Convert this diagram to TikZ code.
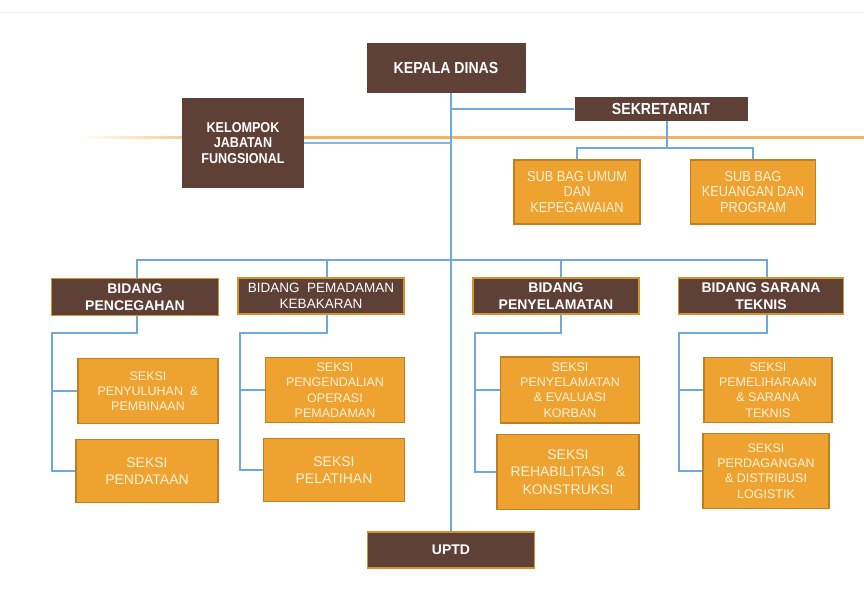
\documentclass[tikz,border=0pt]{standalone}
\usepackage{fontspec}
\setmainfont{Liberation Sans}
\newfontfamily\narrowfont[FakeStretch=0.88]{Liberation Sans}
\definecolor{brn}{HTML}{5E4037}
\definecolor{org}{HTML}{EEA230}
\definecolor{orgb}{HTML}{BE7E22}
\definecolor{brnb}{HTML}{D2922E}
\definecolor{lnk}{HTML}{6FA8DC}
\definecolor{otxt}{HTML}{FFF1D8}
\definecolor{gline}{HTML}{F5B560}
\begin{document}
\begin{tikzpicture}[x=1pt,y=-1pt,
  topbox/.style={fill=brn,draw=none,text=white,align=center,inner sep=0pt,font=\narrowfont\fontsize{16}{15}\selectfont\bfseries},
  bidbox/.style={fill=brn,draw=brnb,line width=1.6pt,text=white,align=center,inner sep=0pt,font=\fontsize{14}{17}\selectfont\bfseries},
  subbox/.style={fill=org,draw=orgb,line width=1.6pt,text=otxt,align=center,inner sep=0pt,font=\narrowfont\fontsize{14.5}{15.5}\selectfont},
  seksbox/.style={fill=org,draw=orgb,line width=1.6pt,text=otxt,align=center,inner sep=0pt,font=\fontsize{12.5}{15.3}\selectfont},
  bigseks/.style={font=\fontsize{14}{17.5}\selectfont},
  conn/.style={draw=lnk,line width=1.3pt}]
\useasboundingbox (0,0) rectangle (864,589);
\fill[white] (0,0) rectangle (864,589);
\draw[gray!12,line width=0.8pt] (0,12) -- (864,12);
% orange guide line
\shade[left color=white,right color=gline] (80,136) rectangle (230,138.5);
\fill[gline] (230,136) rectangle (864,138.5);

% nodes
\node[topbox,minimum width=159pt,minimum height=50pt] (kd) at (446,68) {KEPALA DINAS};
\node[topbox,minimum width=173pt,minimum height=24pt] (sek) at (661,109) {SEKRETARIAT};
\node[topbox,minimum width=122pt,minimum height=90pt,font=\narrowfont\fontsize{14.3}{15.5}\selectfont\bfseries] (kjf) at (243,143) {KELOMPOK\\JABATAN\\FUNGSIONAL};
\node[subbox,minimum width=126pt,minimum height=64pt] (sb1) at (577,192) {SUB BAG UMUM\\DAN\\KEPEGAWAIAN};
\node[subbox,minimum width=125pt,minimum height=64pt] (sb2) at (753,192) {SUB BAG\\KEUANGAN DAN\\PROGRAM};

\node[bidbox,minimum width=167pt,minimum height=37pt] (b1) at (135,297) {BIDANG\\PENCEGAHAN};
\node[bidbox,minimum width=166pt,minimum height=36pt,font=\fontsize{13.5}{16}\selectfont] (b2) at (321,296) {BIDANG\ \ PEMADAMAN\\KEBAKARAN};
\node[bidbox,minimum width=166pt,minimum height=36pt] (b3) at (556,296) {BIDANG\\PENYELAMATAN};
\node[bidbox,minimum width=165pt,minimum height=36pt] (b4) at (761,296) {BIDANG SARANA\\TEKNIS};

\node[seksbox,minimum width=140pt,minimum height=65pt] (s11) at (148,391) {SEKSI\\PENYULUHAN\ \ \&\\PEMBINAAN};
\node[seksbox,bigseks,minimum width=142pt,minimum height=63pt] (s12) at (147,471) {SEKSI\\PENDATAAN};
\node[seksbox,minimum width=139pt,minimum height=65pt] (s21) at (335,390) {SEKSI\\PENGENDALIAN\\OPERASI\\PEMADAMAN};
\node[seksbox,bigseks,minimum width=141pt,minimum height=63pt] (s22) at (334,470) {SEKSI\\PELATIHAN};
\node[seksbox,minimum width=139pt,minimum height=66pt] (s31) at (570,390) {SEKSI\\PENYELAMATAN\\\& EVALUASI\\KORBAN};
\node[seksbox,bigseks,minimum width=142pt,minimum height=75pt] (s32) at (568,472) {SEKSI\\REHABILITASI\ \ \ \&\\KONSTRUKSI};
\node[seksbox,minimum width=128pt,minimum height=65pt] (s41) at (768,390) {SEKSI\\PEMELIHARAAN\\\& SARANA\\TEKNIS};
\node[seksbox,minimum width=126pt,minimum height=75pt] (s42) at (766,471) {SEKSI\\PERDAGANGAN\\\& DISTRIBUSI\\LOGISTIK};

\node[bidbox,minimum width=167pt,minimum height=36pt,font=\fontsize{14}{14}\selectfont\bfseries] (uptd) at (451,550) {UPTD};

% connectors
\coordinate (tr) at (451,93);
\coordinate (bus) at (451,260);
\coordinate (d1) at (137,333);
\coordinate (d2) at (327,333);
\coordinate (d3) at (561,333);
\coordinate (d4) at (767,333);
\draw[conn] (tr) -- (uptd.north);
\draw[conn] (sek.west) -- (sek.west -| tr);
\draw[conn,line width=2.4pt,draw=lnk!85] (kjf.east) -- (kjf.east -| tr);
\coordinate (sj) at (667,148);
\draw[conn] (sek.south -| sj) -- (sj);
\draw[conn] (sb1.north) |- (sj) -| (sb2.north);
\draw[conn] (d1 |- b1.north) |- (bus) -| (d4 |- b4.north);
\draw[conn] (d2 |- b2.north) -- (d2 |- bus);
\draw[conn] (d3 |- b3.north) -- (d3 |- bus);
% children
\coordinate (c1) at (52,333);
\draw[conn] (d1 |- b1.south) -- (d1) -- (c1) |- (s12.west);
\draw[conn] (c1 |- s11.west) -- (s11.west);
\coordinate (c2) at (240,333);
\draw[conn] (d2 |- b2.south) -- (d2) -- (c2) |- (s22.west);
\draw[conn] (c2 |- s21.west) -- (s21.west);
\coordinate (c3) at (475,333);
\draw[conn] (d3 |- b3.south) -- (d3) -- (c3) |- (s32.west);
\draw[conn] (c3 |- s31.west) -- (s31.west);
\coordinate (c4) at (679,333);
\draw[conn] (d4 |- b4.south) -- (d4) -- (c4) |- (s42.west);
\draw[conn] (c4 |- s41.west) -- (s41.west);
\end{tikzpicture}
\end{document}
